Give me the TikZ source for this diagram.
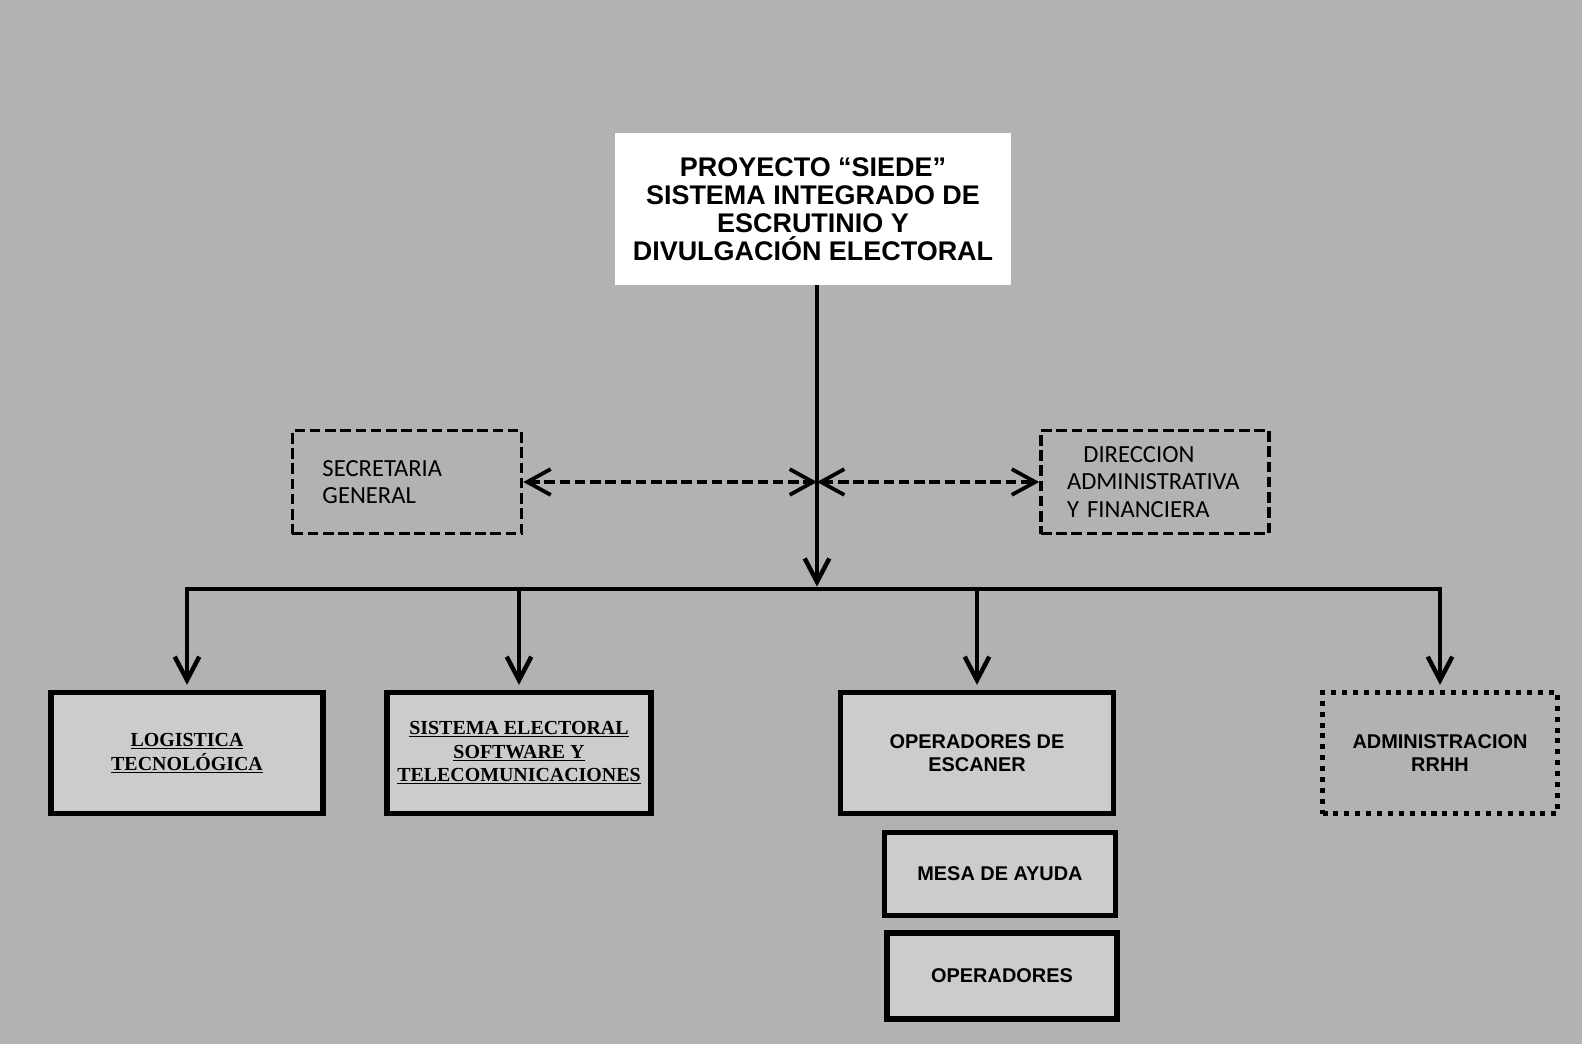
\documentclass[tikz,border=0pt]{standalone}
\usepackage{fontspec}
\setmainfont{Liberation Sans}
\newfontfamily\serifbold{Liberation Serif}
\newfontfamily\carlito{Carlito}
\usetikzlibrary{arrows.meta,positioning}
\definecolor{bgback}{gray}{0.70}
\definecolor{boxfill}{gray}{0.80}

\begin{document}
\begin{tikzpicture}[x=0.03cm,y=-0.03cm,
  unitbox/.style={draw=black,line width=5pt,fill=boxfill,align=center,
     font=\fontsize{17}{20}\selectfont\bfseries,minimum height=3.63cm},
  ulbox/.style={unitbox,font=\fontsize{17}{20}\selectfont\serifbold\bfseries},
  dotbox/.style={unitbox,fill=none,dash pattern=on 4.3pt off 5pt},
  dashbox/.style={draw=black,line width=3.2pt,dash pattern=on 9pt off 4pt,
     align=left,font=\fontsize{21}{23.5}\selectfont\carlito,minimum height=3.09cm},
  conn/.style={line width=3.8pt,-{Straight Barb[length=20pt,width=21pt]}},
  dashconn/.style={line width=3.2pt,dash pattern=on 9pt off 4pt,
     {Straight Barb[length=20pt,width=22pt]}-{Straight Barb[length=20pt,width=22pt]}}]
\fill[bgback] (0,0) rectangle (1582,1044);
\useasboundingbox (0,0) rectangle (1582,1044);

% top
\node[fill=white,minimum width=11.85cm,minimum height=4.56cm,align=center,
      font=\fontsize{23}{24}\selectfont\bfseries] (siede) at (813,209)
      {PROYECTO “SIEDE”\\SISTEMA INTEGRADO DE\\ESCRUTINIO Y\\DIVULGACIÓN ELECTORAL};

% staff
\node[dashbox,inner xsep=0.9cm,text width=5.07cm] (secret) at (407,482) {SECRETARIA\\GENERAL};
\node[dashbox,inner xsep=0.78cm,text width=5.28cm] (direcc) at (1155,482)
      {\hspace*{14pt}DIRECCION\\ADMINISTRATIVA\\Y FINANCIERA};

% units
\node[ulbox,minimum width=8.16cm] (logis) at (187,753) {\underline{LOGISTICA}\\\underline{TECNOLÓGICA}};
\node[ulbox,minimum width=7.9cm] (sistem) at (519,753)
      {\underline{SISTEMA ELECTORAL}\\\underline{SOFTWARE Y}\\\underline{TELECOMUNICACIONES}};
\node[unitbox,minimum width=8.19cm] (escaner) at (977,753) {OPERADORES DE\\ESCANER};
\node[unitbox,minimum width=6.93cm,minimum height=2.49cm] (mesa) at (1000,874) {MESA DE AYUDA};
\node[unitbox,minimum width=6.90cm,minimum height=2.58cm] (operad) at (1002,976) {OPERADORES};
\node[dotbox,minimum width=7.05cm] (rrhh) at (1440,753) {ADMINISTRACION\\RRHH};

% connectors
\coordinate (split) at (817,589);
\draw[conn,shorten >=2pt] (split |- siede.south) -- (split);
\draw[line width=3.8pt,line cap=rect] (logis.north |- split) -- (rrhh.north |- split);
\foreach \unit in {logis,sistem,escaner,rrhh}
  \draw[conn,shorten >=4pt] (\unit.north |- split) -- (\unit.north);

\draw[dashconn] (secret.east) -- (secret.east -| split);
\draw[dashconn] (direcc.west -| split) -- (direcc.west);
\end{tikzpicture}
\end{document}
